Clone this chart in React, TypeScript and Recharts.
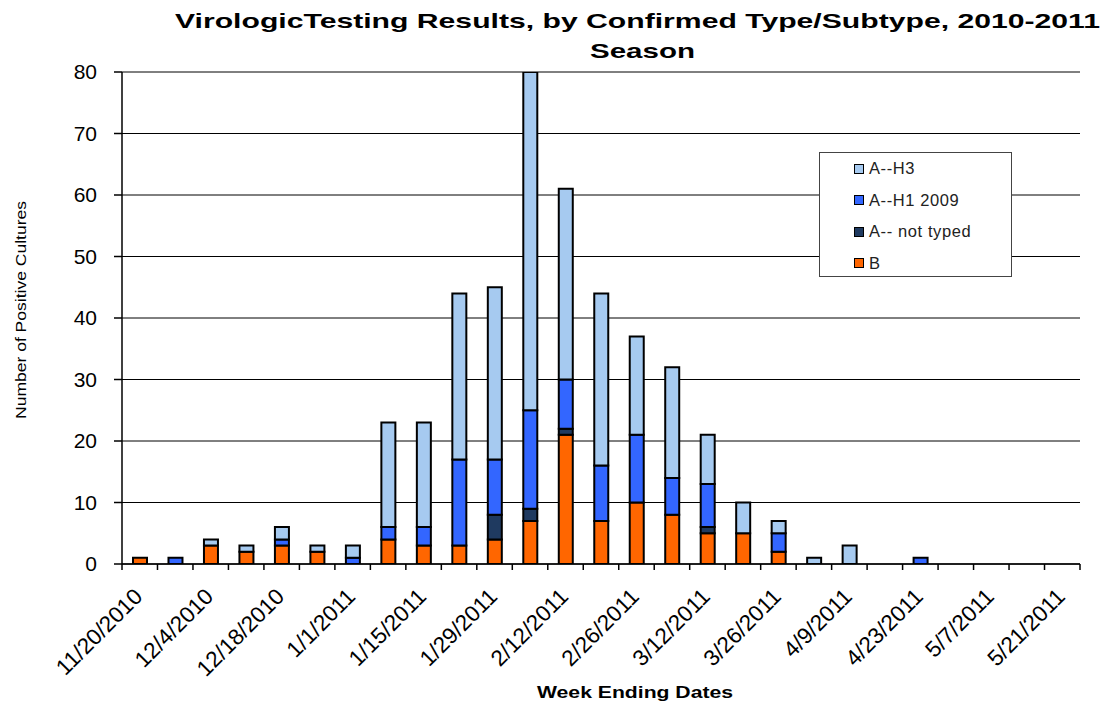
import React from 'react';
import { BarChart, Bar, XAxis, YAxis, CartesianGrid, Legend } from 'recharts';

const weeks = [
    '11/20/2010', '11/27/2010', '12/4/2010', '12/11/2010', '12/18/2010', '12/25/2010',
    '1/1/2011', '1/8/2011', '1/15/2011', '1/22/2011', '1/29/2011', '2/5/2011', '2/12/2011',
    '2/19/2011', '2/26/2011', '3/5/2011', '3/12/2011', '3/19/2011', '3/26/2011', '4/2/2011',
    '4/9/2011', '4/16/2011', '4/23/2011', '4/30/2011', '5/7/2011', '5/14/2011', '5/21/2011',
];
const typeB = [1, 0, 3, 2, 3, 2, 0, 4, 3, 3, 4, 7, 21, 7, 10, 8, 5, 5, 2, 0, 0, 0, 0, 0, 0, 0, 0];
const notTyped = [0, 0, 0, 0, 0, 0, 0, 0, 0, 0, 4, 2, 1, 0, 0, 0, 1, 0, 0, 0, 0, 0, 0, 0, 0, 0, 0];
const h1n1 = [0, 1, 0, 0, 1, 0, 1, 2, 3, 14, 9, 16, 8, 9, 11, 6, 7, 0, 3, 0, 0, 0, 1, 0, 0, 0, 0];
const h3 = [0, 0, 1, 1, 2, 1, 2, 17, 17, 27, 28, 55, 31, 28, 16, 18, 8, 5, 2, 1, 3, 0, 0, 0, 0, 0, 0];
const yTicks = [0, 10, 20, 30, 40, 50, 60, 70, 80];
const legendOrder = ['A--H3', 'A--H1 2009', 'A-- not typed', 'B'];

const W = 1112;
const H = 704;
const MARGIN = { top: 72, right: 32, bottom: 0, left: 0 };
const Y_AXIS_W = 122;
const X_AXIS_H = 140;
const AXIS_Y = H - MARGIN.bottom - X_AXIS_H;
const HALF_BAND = (W - MARGIN.right - MARGIN.left - Y_AXIS_W) / weeks.length / 2;
const FONT = '"Liberation Sans", Arial, sans-serif';

const data = weeks.map((week, i) => ({
    week,
    b: typeB[i],
    nt: notTyped[i],
    h1: h1n1[i],
    h3: h3[i],
}));

// tick marks sit between the bars, labels only on every other week
const WeekTick = (props: any) => {
    const { x, index, payload } = props;
    const last = index === weeks.length - 1;
    const tx = x + 4;
    const ty = AXIS_Y + 34;
    return (
        <g>
            <line x1={x - HALF_BAND} x2={x - HALF_BAND} y1={AXIS_Y} y2={AXIS_Y + 6} stroke="#000" strokeWidth={1.5} />
            {last && <line x1={x + HALF_BAND} x2={x + HALF_BAND} y1={AXIS_Y} y2={AXIS_Y + 6} stroke="#000" strokeWidth={1.5} />}
            {index % 2 === 0 && (
                <text x={tx} y={ty} transform={`rotate(-45, ${tx}, ${ty})`} textAnchor="end" fontSize={22.5} fill="#000">
                    {payload.value}
                </text>
            )}
        </g>
    );
};

const YTitle = (props: any) => {
    const { viewBox } = props;
    const cy = viewBox.y + viewBox.height / 2 - 8;
    return (
        <text x={26} y={cy} transform={`rotate(-90, 26, ${cy})`} textAnchor="middle" fontSize={15.5} fill="#000"
            textLength={218} lengthAdjust="spacingAndGlyphs">
            Number of Positive Cultures
        </text>
    );
};

const XTitle = (props: any) => {
    const { viewBox } = props;
    const cx = viewBox.x + viewBox.width / 2 + 34;
    return (
        <text x={cx - 98} y={viewBox.y + 134} fontSize={16} fontWeight="bold" fill="#000"
            textLength={196} lengthAdjust="spacingAndGlyphs">
            Week Ending Dates
        </text>
    );
};

const LegendBox = (props: any) => {
    const items = [...(props.payload || [])].sort(
        (a: any, b: any) => legendOrder.indexOf(a.value) - legendOrder.indexOf(b.value),
    );
    return (
        <div style={{ width: 193, height: 125, boxSizing: 'border-box', border: '1px solid #444', background: '#fff' }}>
            {items.map((it: any) => (
                <div key={it.value} style={{ display: 'flex', alignItems: 'center', height: 31.5, paddingLeft: 34 }}>
                    <span style={{ width: 8, height: 8, background: it.color, border: '1.5px solid #000', marginRight: 5 }} />
                    <span style={{ fontSize: 16.5, color: '#222', letterSpacing: 0.6 }}>{it.value}</span>
                </div>
            ))}
        </div>
    );
};

export default function App() {
    return (
        <div style={{ position: 'absolute', left: 0, top: 0, width: W, height: H, background: '#fff', fontFamily: FONT }}>
            <svg width={W} height={72} style={{ position: 'absolute', left: 0, top: 0 }}>
                <text x={175} y={28} fontSize={21} fontWeight="bold" textLength={925} lengthAdjust="spacingAndGlyphs">
                    VirologicTesting Results, by Confirmed Type/Subtype, 2010-2011
                </text>
                <text x={590} y={58} fontSize={21} fontWeight="bold" textLength={105} lengthAdjust="spacingAndGlyphs">
                    Season
                </text>
            </svg>
            <BarChart width={W} height={H} data={data} margin={MARGIN} barSize={14} style={{ position: 'absolute', left: 0, top: 0 }}>
                <CartesianGrid vertical={false} stroke="#000" strokeWidth={1} />
                <XAxis
                    dataKey="week"
                    interval={0}
                    height={X_AXIS_H}
                    tick={<WeekTick />}
                    tickLine={false}
                    axisLine={{ stroke: '#000', strokeWidth: 1.5 }}
                    label={<XTitle />}
                />
                <YAxis
                    width={Y_AXIS_W}
                    domain={[0, 80]}
                    ticks={yTicks}
                    allowDataOverflow
                    tickSize={8}
                    tickMargin={17}
                    tick={{ fill: '#000', fontSize: 21 }}
                    tickLine={{ stroke: '#000', strokeWidth: 1.5 }}
                    axisLine={{ stroke: '#000', strokeWidth: 1.5 }}
                    label={<YTitle />}
                />
                <Legend
                    layout="vertical"
                    align="center"
                    verticalAlign="middle"
                    content={<LegendBox />}
                    wrapperStyle={{ left: 819, top: 152, width: 193, height: 125 }}
                />
                <Bar dataKey="b" name="B" stackId="s" fill="#FF6600" stroke="#000" strokeWidth={2} isAnimationActive={false} />
                <Bar dataKey="nt" name="A-- not typed" stackId="s" fill="#1F3A60" stroke="#000" strokeWidth={2} isAnimationActive={false} />
                <Bar dataKey="h1" name="A--H1 2009" stackId="s" fill="#3366FF" stroke="#000" strokeWidth={2} isAnimationActive={false} />
                <Bar dataKey="h3" name="A--H3" stackId="s" fill="#A6CAF0" stroke="#000" strokeWidth={2} isAnimationActive={false} />
            </BarChart>
        </div>
    );
}
